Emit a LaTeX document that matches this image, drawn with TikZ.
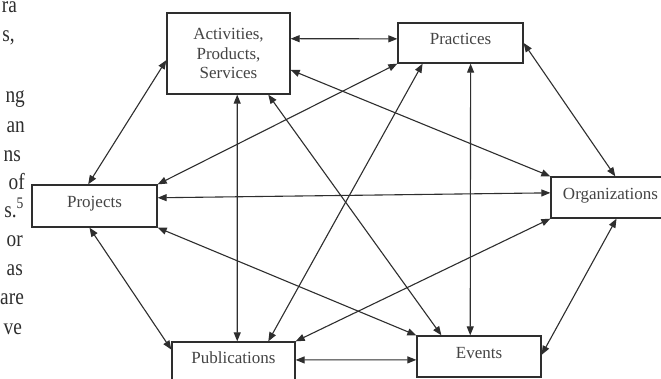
\documentclass[tikz,border=0pt]{standalone}
\usepackage{fontspec}
\setmainfont{Liberation Serif}
\usetikzlibrary{arrows.meta,calc}
\definecolor{ink}{HTML}{2E2E2E}
\definecolor{txt}{HTML}{444444}
\tikzset{
  box/.style={draw=ink, line width=1.3pt, rectangle, inner sep=0pt, text=txt,
    font=\fontsize{17}{19.5}\selectfont, align=center},
  single/.style={text height=11.5pt, text depth=8pt},
  con/.style={draw=ink, line width=1.1pt,
    {Triangle[length=9pt,width=7pt]}-{Triangle[length=9pt,width=7pt]}},
  frag/.style={anchor=base east, inner sep=0pt, text=ink, xscale=0.84, transform shape,
    font=\fontsize{23}{23}\selectfont}
}
\begin{document}
\begin{tikzpicture}[x=1pt,y=-1pt]
\useasboundingbox (0,0) rectangle (661,379);
\clip (0,0) rectangle (661,379);
\fill[white] (0,0) rectangle (661,379);

% text fragments of the page
\node[frag, text height=10.5pt] (f1) at (17,13) {ra};
\node[frag] (f2) at (15,42) {s,};
\node[frag] (f3) at (25,103) {ng};
\node[frag] (f4) at (25,133) {an};
\node[frag] (f5) at (21,162) {ns};
\node[frag] (f6) at (25,190) {of};
\node[frag] (f7) at (24,218) {s.\textsuperscript{5}};
\node[frag] (f8) at (23,247) {or};
\node[frag] (f9) at (23,276) {as};
\node[frag] (f10) at (24,305) {are};
\node[frag] (f11) at (22,334) {ve};

% boxes
\node[box, minimum width=123pt, minimum height=81pt] (act) at (228.5,53.5) {Activities,\\Products,\\Services};
\node[box, single, minimum width=125pt, minimum height=40pt] (pra) at (460.5,43) {Practices};
\node[box, single, minimum width=125pt, minimum height=42pt] (proj) at (94.5,206) {Projects};
\node[box, single, minimum width=119pt, minimum height=41pt] (org) at (610.5,197.5) {Organizations};
\node[box, single, minimum width=123pt, minimum height=40pt] (pub) at (233.5,362) {Publications};
\node[box, single, minimum width=124pt, minimum height=41pt] (evt) at (479,356.5) {Events};

% connectors
\draw[con] ($(act.north east)!0.32!(act.south east)$) -- ($(pra.north west)!0.4!(pra.south west)$);
\draw[con] ($(act.north west)!0.58!(act.south west)$) -- ($(proj.north west)!0.45!(proj.north east)$);
\draw[con] (pra.south west) -- (proj.north east);
\draw[con] ($(act.north east)!0.70!(act.south east)$) -- (org.north west);
\draw[con] ($(act.south west)!0.57!(act.south east)$) -- ($(pub.north west)!0.53!(pub.north east)$);
\draw[con] ($(act.south west)!0.82!(act.south east)$) -- ($(evt.north west)!0.2!(evt.north east)$);
\draw[con] (pra.east) -- ($(org.north west)!0.54!(org.north east)$);
\draw[con] ($(pra.south west)!0.2!(pra.south east)$) -- ($(pub.north west)!0.78!(pub.north east)$);
\draw[con] ($(pra.south west)!0.58!(pra.south east)$) -- ($(evt.north west)!0.43!(evt.north east)$);
\draw[con] ($(proj.north east)!0.31!(proj.south east)$) -- ($(org.north west)!0.39!(org.south west)$);
\draw[con] (proj.south east) -- (evt.north west);
\draw[con] ($(proj.south west)!0.46!(proj.south east)$) -- ($(pub.north west)!0.2!(pub.south west)$);
\draw[con] (pub.north east) -- (org.south west);
\draw[con] ($(pub.north east)!0.45!(pub.south east)$) -- ($(evt.north west)!0.58!(evt.south west)$);
\draw[con] ($(evt.north east)!0.46!(evt.south east)$) -- ($(org.south west)!0.55!(org.south east)$);
\end{tikzpicture}
\end{document}
